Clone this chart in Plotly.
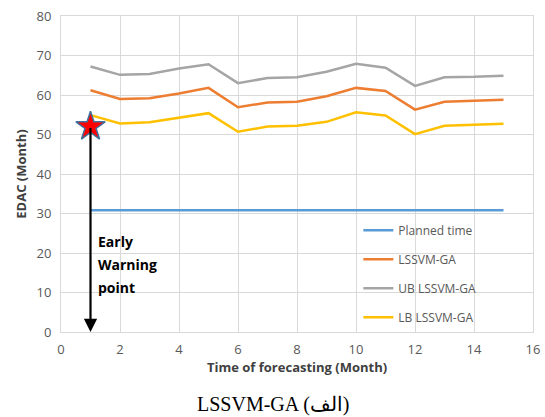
import plotly.graph_objects as go

# Forecast horizon (months)
months = list(range(1, 16))

planned_time = [30.8] * 15
lssvm_ga = [61.2, 59.0, 59.2, 60.4, 61.8, 56.9, 58.1, 58.3, 59.7, 61.8, 61.0, 56.3, 58.3, 58.6, 58.8]
ub_lssvm_ga = [67.2, 65.1, 65.3, 66.7, 67.8, 63.0, 64.3, 64.5, 65.9, 67.9, 66.9, 62.3, 64.5, 64.6, 64.9]
lb_lssvm_ga = [54.9, 52.8, 53.1, 54.3, 55.4, 50.7, 52.0, 52.2, 53.2, 55.6, 54.8, 50.1, 52.2, 52.5, 52.7]

# Early warning point
warn_x = 1
warn_y = 52.0

x_ticks = [0, 2, 4, 6, 8, 10, 12, 14, 16]
y_ticks = [0, 10, 20, 30, 40, 50, 60, 70, 80]

series = [
    ("Planned time", planned_time, "#5b9bd5"),
    ("LSSVM-GA", lssvm_ga, "#ed7d31"),
    ("UB LSSVM-GA", ub_lssvm_ga, "#a5a5a5"),
    ("LB LSSVM-GA", lb_lssvm_ga, "#ffc000"),
]

fig = go.Figure()
for i, (name, vals, color) in enumerate(series):
    fig.add_trace(go.Scatter(
        x=months, y=vals, mode="lines", name=name,
        line=dict(color=color, width=2.5),
        legendgroup=f"g{i}",
    ))

fig.add_trace(go.Scatter(
    x=[warn_x], y=[warn_y], mode="markers", showlegend=False,
    marker=dict(symbol="star", size=22, color="#ff0000",
                line=dict(color="#41719c", width=1.5)),
))

# Arrow from the warning point down to the time axis
fig.add_annotation(
    x=warn_x, y=0, ax=warn_x, ay=warn_y,
    xref="x", yref="y", axref="x", ayref="y",
    showarrow=True, arrowhead=2, arrowsize=1.2, arrowwidth=2.2,
    arrowcolor="#000000", text="",
)

for txt, yy in [("Early", 23.0), ("Warning", 17.2), ("point", 11.2)]:
    fig.add_annotation(
        x=1.2, y=yy, xref="x", yref="y", text=f"<b>{txt}</b>",
        showarrow=False, xanchor="left", yanchor="middle",
        font=dict(family="Open Sans", size=14, color="#000000"),
    )

fig.add_annotation(
    x=0.5, y=-0.11, xref="paper", yref="paper",
    text="<b>Time of forecasting (Month)</b>", showarrow=False,
    xanchor="center", yanchor="middle",
    font=dict(family="Open Sans", size=13, color="#404040"),
)

fig.add_annotation(
    x=0.45, y=-0.228, xref="paper", yref="paper",
    text="LSSVM-GA (الف)", showarrow=False,
    xanchor="center", yanchor="middle",
    font=dict(family="Liberation Serif", size=20, color="#000000"),
)

grid = "#d9d9d9"
fig.update_layout(
    width=545, height=417,
    margin=dict(l=61, r=12, t=16, b=85, autoexpand=False),
    paper_bgcolor="white", plot_bgcolor="white",
    font=dict(family="Open Sans", color="#595959"),
    legend=dict(
        x=0.63, y=0.368, xanchor="left", yanchor="top",
        bgcolor="rgba(0,0,0,0)",
        font=dict(family="Open Sans", size=12, color="#595959"),
        traceorder="grouped", tracegroupgap=10,
    ),
    xaxis=dict(
        range=[0, 16], tickvals=x_ticks, showgrid=True, gridcolor=grid,
        gridwidth=1, zeroline=False, showline=True, linecolor=grid,
        mirror=True, tickfont=dict(size=13, color="#595959"), ticks="",
        ticklabelstandoff=5,
    ),
    yaxis=dict(
        range=[0, 80], tickvals=y_ticks, showgrid=True, gridcolor=grid,
        gridwidth=1, zeroline=False, showline=True, linecolor=grid,
        mirror=True, tickfont=dict(size=13, color="#595959"), ticks="",
        ticklabelstandoff=6,
        title=dict(text="<b>EDAC (Month)</b>", standoff=6,
                   font=dict(family="Open Sans", size=13, color="#404040")),
    ),
)

fig.write_html("out.html")
